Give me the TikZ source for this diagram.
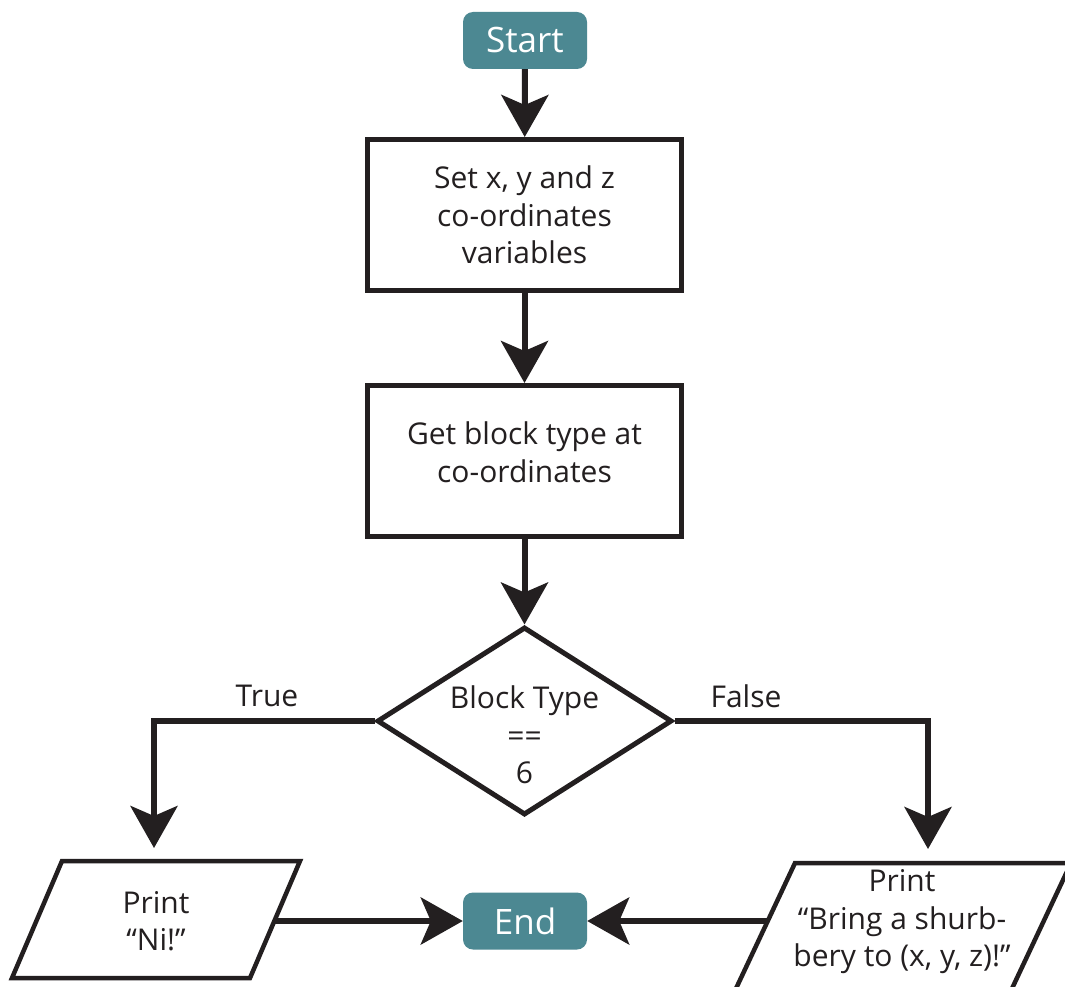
\documentclass[tikz,border=0pt]{standalone}
\usepackage{fontspec}
\setmainfont{Open Sans}
\usetikzlibrary{arrows.meta,shapes.geometric}
\definecolor{teal1}{RGB}{76,136,146}
\definecolor{ink}{RGB}{35,31,32}
\begin{document}
\begin{tikzpicture}[x=1pt,y=-1pt,
  txt/.style={text=ink, align=center, font=\fontsize{30}{37.5}\selectfont},
  term/.style={rectangle, rounded corners=10pt, fill=teal1, text=white,
    minimum width=124pt, minimum height=57pt, inner sep=0pt,
    font=\fontsize{35}{40}\selectfont},
  proc/.style={txt, rectangle, draw=ink, line width=5pt,
    minimum width=314pt, minimum height=151pt, inner sep=0pt},
  decbox/.style={diamond, draw=ink, line width=5pt, inner sep=0pt,
    minimum width=295pt, minimum height=188pt},
  para/.style={draw=ink, line width=4.5pt, line join=miter},
  arr/.style={draw=ink, line width=6pt,
    -{Stealth[length=42pt,width=47pt,inset=10pt]}}
]
\clip (0,0) rectangle (1065,987);
\fill[white] (0,0) rectangle (1065,987);

\node[term] (start) at (525,40.5) {Start};
\node[proc] (box1) at (524.5,215) {Set x, y and z\\co-ordinates\\variables};
\node[proc] (box2) at (524.5,461) {\raisebox{5pt}[\height][\depth]{\begin{tabular}{@{}c@{}}Get block type at\\co-ordinates\end{tabular}}};
\node[decbox] (dec) at (524.5,721) {};
\node[txt] (dectext) at (524.5,735) {Block Type\\==\\6};
\node[txt] (true) at (267,696) {True};
\node[txt] (false) at (746,696) {False};

% left parallelogram
\draw[para] (62,861) -- (300,861) -- (250,978) -- (12,978) -- cycle;
\node[txt] (ni) at (156,921) {Print\\“Ni!”};
\coordinate (niT) at (154,861);
\coordinate (niE) at (274,921);

% right parallelogram
\draw[para] (795,863) -- (1071,863) -- (1000.5,1013) -- (724.5,1013) -- cycle;
\node[txt] (br) at (902,922) {Print\\“Bring a shurb-\\bery to (x, y, z)!”};
\coordinate (brT) at (928,863);
\coordinate (brW) at (768,921);

\node[term] (end) at (525,921) {End};

% connectors
\draw[arr] (start) -- (box1);
\draw[arr] (box1) -- (box2);
\draw[arr] (box2) -- (dec);
\draw[arr, shorten >=13pt] (dec.west) -| (niT);
\draw[arr, shorten >=14pt] (dec.east) -| (brT);
\draw[arr] (niE) -- (end.west);
\draw[arr] (brW) -- (end.east);
\end{tikzpicture}
\end{document}
